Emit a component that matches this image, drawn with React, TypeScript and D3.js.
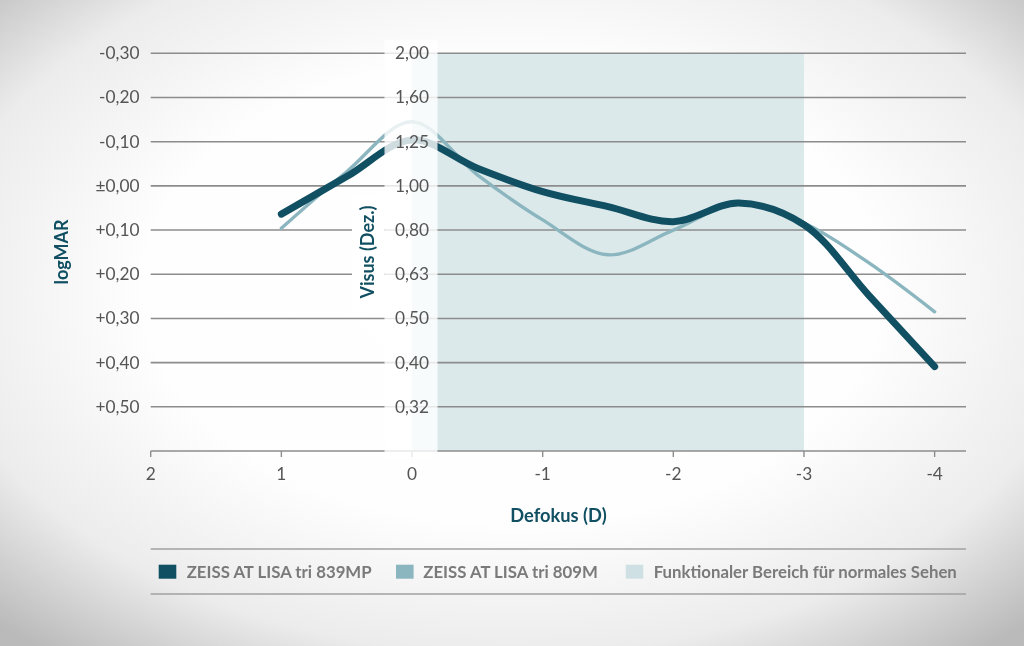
import React from "react";
import * as d3 from "d3";

const defocus = [1, 0.5, 0, -0.5, -1, -1.5, -2, -2.5, -3, -3.5, -4];
const lisa839MP = [0.064, -0.021, -0.104, -0.04, 0.013, 0.047, 0.081, 0.039, 0.088, 0.249, 0.409];
const lisa809M = [0.096, -0.032, -0.145, -0.025, 0.077, 0.156, 0.1, 0.04, 0.084, 0.175, 0.285];
const xTicks = [2, 1, 0, -1, -2, -3, -4];
const logmarTicks = [-0.3, -0.2, -0.1, 0, 0.1, 0.2, 0.3, 0.4, 0.5];
const logmarLabels = ["-0,30", "-0,20", "-0,10", "±0,00", "+0,10", "+0,20", "+0,30", "+0,40", "+0,50"];
const visusLabels = ["2,00", "1,60", "1,25", "1,00", "0,80", "0,63", "0,50", "0,40", "0,32"];
const functionalRange = [0, -3];
const seriesNames = ["ZEISS AT LISA tri 839MP", "ZEISS AT LISA tri 809M", "Funktionaler Bereich für normales Sehen"];

const DARK = "#114f62";
const LIGHT = "#8bb6bf";
const BAND = "#dce9eb";
const BAND_SW = "#cfe0e4";
const GRID = "#8c8c8c";
const FONT = "Lato, 'Open Sans', sans-serif";

export default function App() {
  const x = d3.scaleLinear().domain([2, -4.24]).range([150.7, 966]);
  const y = d3.scaleLinear().domain([-0.3, 0.6]).range([53.3, 451]);
  const line = d3
    .line<number>()
    .x((_, i) => x(defocus[i]))
    .y((d) => y(d))
    .curve(d3.curveCatmullRom.alpha(0.5));

  const x0 = x(0);
  const axisY = y(0.6);

  return (
    <svg
      width={1024}
      height={646}
      style={{ position: "fixed", left: 0, top: 0 }}
      fontFamily={FONT}
    >
      <defs>
        <radialGradient id="bg" cx="50%" cy="45%" r="72%">
          <stop offset="0" stopColor="#ffffff" />
          <stop offset="0.5" stopColor="#fefefe" />
          <stop offset="0.78" stopColor="#ececec" />
          <stop offset="1" stopColor="#bababa" />
        </radialGradient>
      </defs>
      <rect x={0} y={0} width={1024} height={646} fill="url(#bg)" />

      {/* functional range band */}
      <rect
        x={x(functionalRange[0])}
        y={y(-0.3)}
        width={x(functionalRange[1]) - x(functionalRange[0])}
        height={axisY - y(-0.3)}
        fill={BAND}
      />

      {/* gridlines */}
      {logmarTicks.map((t) => (
        <line key={t} x1={x(2)} x2={966} y1={y(t)} y2={y(t)} stroke={GRID} strokeWidth={1.6} />
      ))}

      {/* x axis */}
      <line x1={x(2)} x2={966} y1={axisY} y2={axisY} stroke={GRID} strokeWidth={1.6} />
      {xTicks.map((t) => (
        <line key={t} x1={x(t)} x2={x(t)} y1={axisY} y2={axisY + 6} stroke={GRID} strokeWidth={1.4} />
      ))}

      {/* lines */}
      <path d={line(lisa809M) || ""} fill="none" stroke={LIGHT} strokeWidth={3.4} strokeLinecap="round" strokeLinejoin="round" />
      <path d={line(lisa839MP) || ""} fill="none" stroke={DARK} strokeWidth={7} strokeLinecap="round" strokeLinejoin="round" />

      {/* translucent label column */}
      <rect x={384.5} y={40} width={53} height={axisY + 7 - 40} fill="#ffffff" opacity={0.8} />
      {/* Visus label background */}
      <rect x={352} y={195} width={32.5} height={113} fill="#ffffff" />

      {/* left tick labels */}
      {logmarTicks.map((t, i) => (
        <text key={t} x={139.5} y={y(t) + 6} textAnchor="end" fontSize={17.3} fill="#555">
          {logmarLabels[i]}
        </text>
      ))}
      {/* middle tick labels */}
      {logmarTicks.map((t, i) => (
        <text key={t} x={x0} y={y(t) + 6} textAnchor="middle" fontSize={17.3} fill="#555">
          {visusLabels[i]}
        </text>
      ))}
      {/* x tick labels */}
      {xTicks.map((t) => (
        <text key={t} x={x(t)} y={480} textAnchor="middle" fontSize={17.3} fill="#555">
          {String(t)}
        </text>
      ))}

      {/* axis titles */}
      <text
        transform={`translate(${67.5},${252}) rotate(-90)`}
        textAnchor="middle"
        fontSize={18}
        fontWeight={700}
        fill={DARK}
      >
        logMAR
      </text>
      <text
        transform={`translate(${373.5},${252}) rotate(-90)`}
        textAnchor="middle"
        fontSize={18}
        fontWeight={700}
        fill={DARK}
      >
        Visus (Dez.)
      </text>
      <text x={558.5} y={522} textAnchor="middle" fontSize={18.3} fontWeight={700} fill={DARK}>
        Defokus (D)
      </text>

      {/* legend */}
      <line x1={x(2)} x2={966} y1={549} y2={549} stroke="#a0a0a0" strokeWidth={1.5} />
      <line x1={x(2)} x2={966} y1={594} y2={594} stroke="#a0a0a0" strokeWidth={1.5} />
      {[
        { c: DARK, sx: 158.7, tx: 186.7 },
        { c: LIGHT, sx: 396, tx: 423.3 },
        { c: BAND_SW, sx: 625.7, tx: 653.7 },
      ].map((l, i) => (
        <g key={i}>
          <rect x={l.sx} y={564.7} width={17.6} height={14} fill={l.c} />
          <text x={l.tx} y={578.3} fontSize={16.8} fontWeight={700} fill="#7a7a7a">
            {seriesNames[i]}
          </text>
        </g>
      ))}
    </svg>
  );
}
